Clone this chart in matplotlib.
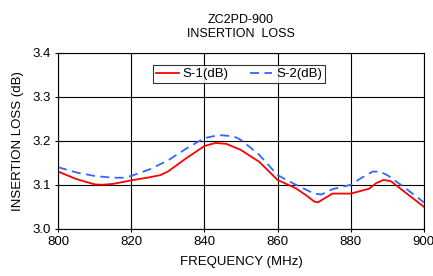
import matplotlib
matplotlib.use('Agg')
import matplotlib.pyplot as plt

plt.rcParams['font.family'] = ['Liberation Sans', 'DejaVu Sans']

# frequency points (MHz)
freq = [800, 805, 810, 812, 815, 820, 825, 828, 830, 835, 840, 843, 846, 850,
        855, 860, 865, 868, 870, 871, 873, 875, 880, 885, 887, 889, 891, 895, 900]
s1 = [3.130, 3.113, 3.101, 3.100, 3.102, 3.110, 3.117, 3.122, 3.130, 3.160,
      3.188, 3.195, 3.193, 3.179, 3.152, 3.111, 3.092, 3.075, 3.062, 3.060,
      3.070, 3.080, 3.080, 3.091, 3.104, 3.111, 3.108, 3.082, 3.050]

freq2 = [800, 805, 810, 815, 818, 820, 825, 830, 835, 840, 844, 848, 850,
         855, 860, 865, 870, 872, 875, 880, 883, 886, 888, 890, 895, 900]
s2 = [3.140, 3.128, 3.120, 3.116, 3.116, 3.120, 3.135, 3.155, 3.182, 3.206,
      3.213, 3.210, 3.202, 3.168, 3.122, 3.100, 3.080, 3.078, 3.090, 3.100,
      3.116, 3.130, 3.130, 3.122, 3.092, 3.060]

fig = plt.figure(figsize=(4.33, 2.76), dpi=100)
ax = fig.add_axes([0.134, 0.171, 0.845, 0.638])

ax.plot(freq, s1, color='#ff0000', lw=1.3, label='S-1(dB)')
ax.plot(freq2, s2, color='#3366ff', lw=1.3, dashes=(5, 3), label='S-2(dB)')

ax.set_xlim(800, 900)
ax.set_ylim(3.0, 3.4)
ax.set_xticks([800, 820, 840, 860, 880, 900])
ax.set_yticks([3.0, 3.1, 3.2, 3.3, 3.4])
ax.set_yticklabels(['3.0', '3.1', '3.2', '3.3', '3.4'])
ax.grid(True, color='black', lw=0.8)
ax.tick_params(labelsize=9.5, length=4, direction='inout', color='black', pad=3)
for sp in ax.spines.values():
    sp.set_color('black')
    sp.set_linewidth(0.8)

ax.set_xlabel('FREQUENCY (MHz)', fontsize=9.5, labelpad=6)
ax.set_ylabel('INSERTION LOSS (dB)', fontsize=9.5, labelpad=6)
ax.set_title('ZC2PD-900\nINSERTION  LOSS', fontsize=9, pad=11, linespacing=1.25)

leg = ax.legend(loc='upper center', bbox_to_anchor=(0.495, 0.97), ncol=2, fontsize=9.5,
                frameon=True, fancybox=False, edgecolor='black', handlelength=1.7,
                columnspacing=1.6, borderpad=0.25, handletextpad=0.3)
leg.get_frame().set_linewidth(0.8)

fig.savefig('out.png', dpi=100)
